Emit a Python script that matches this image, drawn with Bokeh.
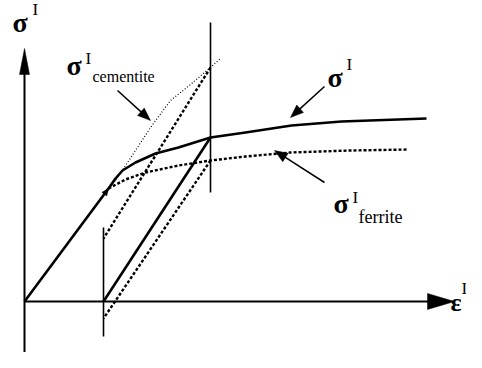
import math
from bokeh.plotting import figure
from bokeh.models import Range1d
from bokeh.core.properties import value
from bokeh.embed import file_html
from bokeh.resources import INLINE

# ---- data (strain, stress in schematic units) ----
load_strain = [0, 84]
load_stress = [0, 113]

total_strain = [84, 91, 98, 111, 131, 154, 186, 221, 267, 317, 402]
total_stress = [113, 123, 131, 139, 148, 154, 164, 169, 176, 180, 183]

ferrite_strain = [84, 101, 121, 154, 186, 221, 266, 326, 384]
ferrite_stress = [113, 122, 129, 136, 141, 145, 149, 151, 152]

cementite_strain = [84, 91, 99, 111, 126, 146, 166, 186, 196]
cementite_stress = [113, 121, 133, 151, 174, 201, 217, 234, 243]

unload_strain = [186, 79]
unload_total = [164, 0]
unload_ferrite = [141, -17]
unload_cementite = [234, 63]

mark_strain = [186, 79]            # vertical marker lines
mark_low = [109, -35]
mark_high = [279, 74]

p = figure(width=466, height=352, x_range=Range1d(-24, 442), y_range=Range1d(-51, 301),
           output_backend="svg", toolbar_location=None, x_axis_type=None, y_axis_type=None,
           min_border=0, min_border_left=0, min_border_right=0, min_border_top=0,
           min_border_bottom=0)
p.outline_line_color = None
p.background_fill_color = "white"
p.border_fill_color = "white"


def arrow(x0, y0, x1, y1, hl, hw, lw):
    dx, dy = x1 - x0, y1 - y0
    L = math.hypot(dx, dy)
    ux, uy = dx / L, dy / L
    bx, by = x1 - ux * hl, y1 - uy * hl
    if lw > 0:
        p.line([x0, bx + ux * 1], [y0, by + uy * 1], line_width=lw, line_color="black")
    p.patch([x1, bx - uy * hw, bx + uy * hw], [y1, by + ux * hw, by - ux * hw],
            fill_color="black", line_color="black", line_width=0.5)


# axes
arrow(0, -70, 0, 253, 26, 5, 2)
arrow(0, 0, 430, 0, 27, 8, 2)

# vertical marker lines
for xs, lo, hi in zip(mark_strain, mark_low, mark_high):
    p.line([xs, xs], [lo, hi], line_width=1.6, line_color="black")

# curves
p.line(load_strain, load_stress, line_width=2.6, line_color="black")
arrow(load_strain[0], load_stress[0], load_strain[1], load_stress[1], 7, 3, 0)
p.line(total_strain, total_stress, line_width=2.6, line_color="black", line_join="round")
p.line(ferrite_strain, ferrite_stress, line_width=2.4, line_color="black", line_dash="3 2")
p.line(cementite_strain, cementite_stress, line_width=1.2, line_color="black", line_dash="1 2")

p.line(unload_strain, unload_total, line_width=2.6, line_color="black")
p.line(unload_strain, unload_ferrite, line_width=2.4, line_color="black", line_dash="3 2")
p.line(unload_strain, unload_cementite, line_width=2.4, line_color="black", line_dash="3 2")

# label arrows
arrow(93, 211, 126, 181, 13, 5, 1.5)
arrow(300, 215, 266, 184, 13, 5, 1.5)
arrow(300, 119, 250, 151, 13, 5, 1.5)


def txt(x, y, s, size, bold=False):
    p.text(x=[x], y=[y + 8], text=[s], text_font=value("Liberation Serif"), text_font_size=size,
           text_font_style="bold" if bold else "normal", text_color="black",
           text_align="left", text_baseline="alphabetic")


# axis labels
txt(-12, 271, "σ", "28px", True)
txt(8, 284, "I", "17px")
txt(426, -9, "ε", "26px", True)
txt(437, 5, "I", "17px")

# cementite label
txt(42, 228, "σ", "28px", True)
txt(61, 235, "I", "17px")
txt(68, 217, "cementite", "16px")

# total label
txt(303, 216, "σ", "28px", True)
txt(322, 229, "I", "17px")

# ferrite label
txt(309, 90, "σ", "28px", True)
txt(328, 96, "I", "17px")
txt(334, 77, "ferrite", "18px")

open("out.html", "w").write(file_html(p, INLINE))
